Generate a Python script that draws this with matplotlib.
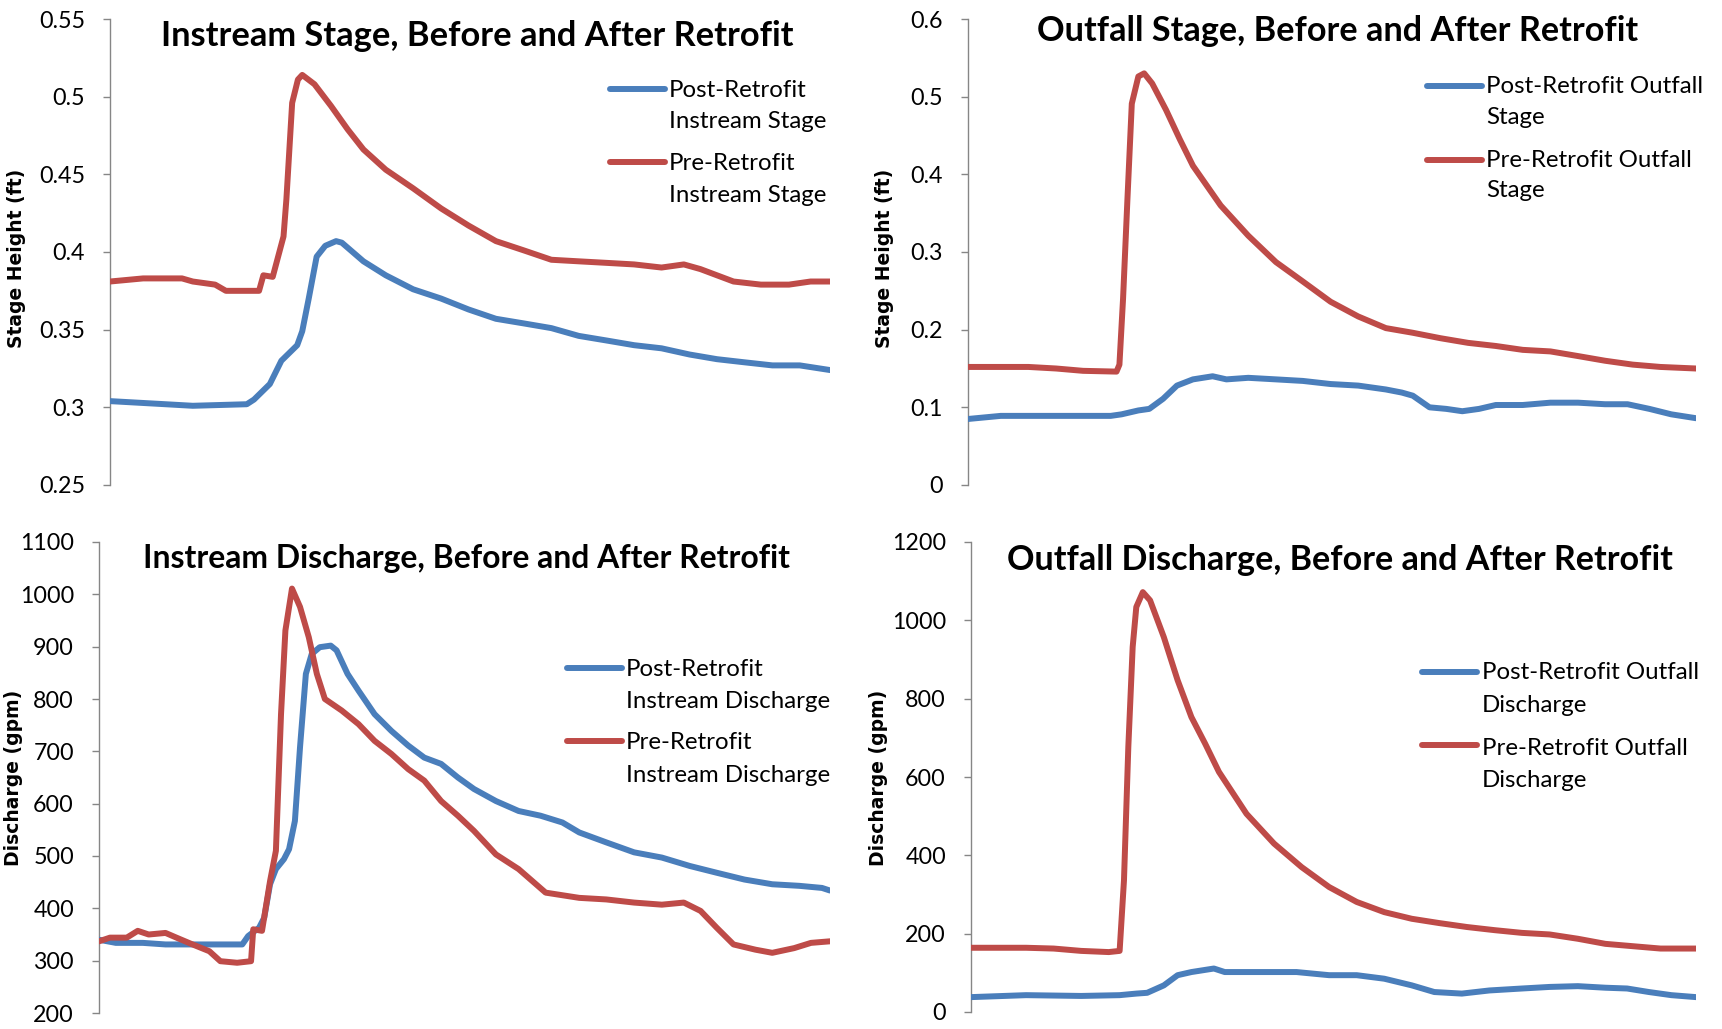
import matplotlib
matplotlib.use("Agg")
import matplotlib.pyplot as plt
from matplotlib.lines import Line2D

# ---------------------------------------------------------------- data
# time axis: percent of the storm-event record
t_instream_stage_post = [0, 7.7, 11.5, 19, 20, 22.2, 23.8, 26, 26.7, 27.6, 28.7, 29.9, 31.4, 32.2,
                         35.2, 38.3, 42.1, 46, 49.8, 53.6, 57.5, 61.3, 65.1, 69, 72.8, 76.6, 80.5,
                         84.3, 88.1, 92, 95.8, 100]
instream_stage_post = [0.304, 0.302, 0.301, 0.302, 0.305, 0.315, 0.330, 0.340, 0.349, 0.370, 0.397,
                       0.404, 0.407, 0.406, 0.394, 0.385, 0.376, 0.370, 0.363, 0.357, 0.354, 0.351,
                       0.346, 0.343, 0.340, 0.338, 0.334, 0.331, 0.329, 0.327, 0.327, 0.324]

t_instream_stage_pre = [0, 4.6, 10, 11.5, 14.6, 16.1, 20.7, 21.3, 22.6, 24.1, 24.5, 25.3, 26.1, 26.7,
                        28.4, 30.7, 33, 35.2, 38.3, 42.1, 46, 49.8, 53.6, 57.5, 61.3, 65.1, 69, 72.8,
                        76.6, 79.7, 82, 84.3, 86.6, 90.4, 94.3, 97.3, 100]
instream_stage_pre = [0.381, 0.383, 0.383, 0.381, 0.379, 0.375, 0.375, 0.385, 0.384, 0.410, 0.434,
                      0.496, 0.511, 0.514, 0.508, 0.494, 0.479, 0.466, 0.453, 0.441, 0.428, 0.417,
                      0.407, 0.401, 0.395, 0.394, 0.393, 0.392, 0.390, 0.392, 0.389, 0.385, 0.381,
                      0.379, 0.379, 0.381, 0.381]

t_outfall_stage_post = [0, 4.5, 12.1, 19.6, 21.1, 23.4, 24.9, 26.8, 28.7, 30.9, 33.6, 35.5, 38.5,
                        42.3, 46, 49.8, 53.6, 57.4, 59.6, 61.1, 63.4, 65.7, 67.9, 70.2, 72.5, 76.2,
                        80, 83.8, 87.5, 90.6, 93.6, 96.6, 100]
outfall_stage_post = [0.085, 0.089, 0.089, 0.089, 0.091, 0.096, 0.098, 0.111, 0.128, 0.136, 0.140,
                      0.136, 0.138, 0.136, 0.134, 0.130, 0.128, 0.123, 0.119, 0.115, 0.100, 0.098,
                      0.095, 0.098, 0.103, 0.103, 0.106, 0.106, 0.104, 0.104, 0.098, 0.091, 0.086]

t_outfall_stage_pre = [0, 8.3, 12.1, 15.8, 20.4, 20.8, 21.3, 21.9, 22.5, 23.4, 24.2, 25.3, 27.2,
                       29.1, 30.9, 34.7, 38.5, 42.3, 46, 49.8, 53.6, 57.4, 61.1, 64.9, 68.7, 72.5,
                       76.2, 80, 83.8, 87.5, 91.3, 95.1, 100]
outfall_stage_pre = [0.152, 0.152, 0.150, 0.147, 0.146, 0.155, 0.240, 0.368, 0.491, 0.526, 0.530,
                     0.517, 0.483, 0.445, 0.411, 0.360, 0.321, 0.287, 0.262, 0.236, 0.217, 0.202,
                     0.196, 0.189, 0.183, 0.179, 0.174, 0.172, 0.166, 0.160, 0.155, 0.152, 0.150]

t_instream_q_post = [0, 2.3, 6, 9.1, 12.8, 16.6, 19.6, 20.4, 21.9, 22.6, 23.4, 24.2, 25.3, 26, 26.8,
                     27.5, 28.3, 29.1, 30.2, 31.7, 32.5, 34, 35.5, 37.7, 40, 42.3, 44.5, 46.8, 49.1,
                     51.3, 54.3, 57.4, 60.4, 63.4, 65.7, 69.4, 73.2, 77, 80.8, 84.5, 88.3, 92.1,
                     95.8, 98.9, 100]
instream_q_post = [340, 334, 334, 331, 331, 331, 331, 347, 363, 382, 446, 475, 494, 513, 567, 708,
                   848, 886, 899, 902, 893, 848, 816, 771, 739, 711, 688, 676, 650, 628, 605, 586,
                   577, 564, 545, 526, 507, 497, 481, 468, 455, 446, 443, 439, 434]

t_instream_q_pre = [0, 1.5, 3.8, 5.3, 6.8, 9.1, 10.6, 12.8, 15.1, 16.6, 18.9, 20.8, 21.1, 22.3,
                    23.4, 24.2, 24.9, 25.5, 26.4, 27.5, 28.7, 29.8, 30.9, 33.2, 35.5, 37.7, 40,
                    42.3, 44.5, 46.8, 49.1, 51.3, 54.3, 57.4, 61.1, 65.7, 69.4, 73.2, 77, 80, 82.3,
                    84.5, 86.8, 89.8, 92.1, 95.1, 97.4, 100]
instream_q_pre = [337, 344, 344, 357, 350, 353, 344, 331, 318, 299, 296, 299, 360, 357, 452, 510,
                  771, 931, 1011, 976, 918, 848, 800, 778, 752, 720, 695, 666, 644, 605, 577, 548,
                  503, 475, 430, 420, 417, 411, 407, 411, 395, 363, 331, 321, 315, 324, 334, 337]

t_outfall_q_post = [0, 7.6, 15.2, 20.5, 22.8, 24.3, 26.6, 28.5, 30.4, 33.5, 35, 38, 41.8, 44.9, 49.4,
                    53.2, 57, 60.8, 63.9, 67.7, 71.5, 76, 79.8, 83.7, 87.5, 90.5, 93.5, 96.6, 100]
outfall_q_post = [38, 43, 41, 43, 47, 49, 68, 94, 102, 111, 102, 102, 102, 102, 94, 94, 85, 68, 51,
                  47, 55, 60, 64, 66, 62, 60, 51, 43, 38]

t_outfall_q_pre = [0, 7.6, 11.4, 15.2, 19, 20.5, 21.1, 21.7, 22.3, 22.8, 23.7, 24.7, 26.6, 28.5, 30.4,
                   32.3, 34.2, 38, 41.8, 45.6, 49.4, 53.2, 57, 60.8, 64.6, 68.4, 72.2, 76, 79.8,
                   83.7, 87.5, 91.3, 95.1, 100]
outfall_q_pre = [164, 164, 162, 156, 153, 156, 336, 677, 932, 1034, 1072, 1051, 957, 847, 753, 685,
                 613, 506, 430, 370, 319, 281, 255, 238, 227, 217, 209, 202, 198, 187, 174, 168,
                 162, 162]

titles = ["Instream Stage, Before and After Retrofit",
          "Outfall Stage, Before and After Retrofit",
          "Instream Discharge, Before and After Retrofit",
          "Outfall Discharge, Before and After Retrofit"]
ylabels = ["Stage Height (ft)", "Stage Height (ft)", "Discharge (gpm)", "Discharge (gpm)"]
legend_labels = [
    [("Post-Retrofit", "Instream Stage"), ("Pre-Retrofit", "Instream Stage")],
    [("Post-Retrofit Outfall", "Stage"), ("Pre-Retrofit Outfall", "Stage")],
    [("Post-Retrofit", "Instream Discharge"), ("Pre-Retrofit", "Instream Discharge")],
    [("Post-Retrofit Outfall", "Discharge"), ("Pre-Retrofit Outfall", "Discharge")],
]
yticks = [
    [0.25, 0.3, 0.35, 0.4, 0.45, 0.5, 0.55],
    [0, 0.1, 0.2, 0.3, 0.4, 0.5, 0.6],
    [200, 300, 400, 500, 600, 700, 800, 900, 1000, 1100],
    [0, 200, 400, 600, 800, 1000, 1200],
]
ytick_labels = [
    ["0.25", "0.3", "0.35", "0.4", "0.45", "0.5", "0.55"],
    ["0", "0.1", "0.2", "0.3", "0.4", "0.5", "0.6"],
    ["200", "300", "400", "500", "600", "700", "800", "900", "1000", "1100"],
    ["0", "200", "400", "600", "800", "1000", "1200"],
]
series = [
    ((t_instream_stage_post, instream_stage_post), (t_instream_stage_pre, instream_stage_pre)),
    ((t_outfall_stage_post, outfall_stage_post), (t_outfall_stage_pre, outfall_stage_pre)),
    ((t_instream_q_post, instream_q_post), (t_instream_q_pre, instream_q_pre)),
    ((t_outfall_q_post, outfall_q_post), (t_outfall_q_pre, outfall_q_pre)),
]

# ---------------------------------------------------------------- styling
W, H = 1722, 1029
BLUE, RED = "#4A7EBB", "#BE4B48"
AXIS_GREY = "#868686"
SANS = ["Lato", "DejaVu Sans"]
LW = 4.3

fig = plt.figure(figsize=(W / 100, H / 100), dpi=100)
fig.patch.set_facecolor("white")
renderer = fig.canvas.get_renderer()


def fx(x):
    return x / W


def fy(y):
    return 1 - y / H


def text_width(s, size, family, weight):
    t = fig.text(0, 0, s, fontsize=size, family=family, weight=weight)
    w = t.get_window_extent(renderer).width
    t.remove()
    return w


def fit_size(s, target_px, family, weight="normal"):
    return 20 * target_px / text_width(s, 20, family, weight)


tick_size = fit_size("0.55", 46, SANS)
legend_size = fit_size("Post-Retrofit Outfall", 217, SANS)
ylabel_size = fit_size("Discharge (gpm)", 176, ["DejaVu Sans"], "bold")

# panel boxes in pixels: left, right, top, bottom
boxes = [(110, 830, 19, 485), (968, 1696, 19, 485), (99, 830, 542, 1013), (971, 1696, 542, 1012)]
# title: left, right, baseline
title_pos = [(162, 793, 46), (1038, 1638, 41), (143, 790, 568), (1007, 1673, 570)]
# y label: x centre, y centre
ylabel_pos = [(17, 258), (885, 258), (14, 778), (879, 778)]
# legend: handle x0, handle x1, text x, baselines, handle y
legend_pos = [
    (610, 665, 669, (97, 128, 170, 202), (89, 162)),
    (1427, 1482, 1486, (93, 124, 167, 197), (86, 160)),
    (567, 622, 626, (676, 708, 749, 782), (668, 741)),
    (1422, 1477, 1482, (679, 712, 755, 787), (672, 745)),
]

for i in range(4):
    left, right, top, bottom = boxes[i]
    ax = fig.add_axes([fx(left), fy(bottom), (right - left) / W, (bottom - top) / H])
    (tp, vp), (tr, vr) = series[i]
    ax.plot(tp, vp, color=BLUE, lw=LW, solid_joinstyle="round", solid_capstyle="round", zorder=3)
    ax.plot(tr, vr, color=RED, lw=LW, solid_joinstyle="round", solid_capstyle="round", zorder=3)
    ax.set_xlim(0, 100)
    ax.set_ylim(yticks[i][0], yticks[i][-1])
    ax.set_yticks(yticks[i])
    ax.set_yticklabels(ytick_labels[i], family=SANS, fontsize=tick_size)
    ax.set_xticks([])
    for s in ("top", "right", "bottom"):
        ax.spines[s].set_visible(False)
    ax.spines["left"].set_color(AXIS_GREY)
    ax.spines["left"].set_linewidth(1.0)
    ax.tick_params(axis="y", direction="out", length=5, width=1.0, color=AXIS_GREY,
                   pad=13, labelcolor="black")
    ax.patch.set_alpha(0)

    # title
    tl, trt, tb = title_pos[i]
    tsize = fit_size(titles[i], trt - tl, SANS, "bold")
    fig.text(fx((tl + trt) / 2), fy(tb), titles[i], ha="center", va="baseline",
             fontsize=tsize, family=SANS, weight="bold")

    # y label
    yx, yy = ylabel_pos[i]
    fig.text(fx(yx), fy(yy), ylabels[i], rotation=90, ha="center", va="center",
             fontsize=ylabel_size, family="DejaVu Sans", weight="bold")

    # legend
    hx0, hx1, tx, bases, hys = legend_pos[i]
    for k, colr in enumerate((BLUE, RED)):
        fig.add_artist(Line2D([fx(hx0), fx(hx1)], [fy(hys[k]), fy(hys[k])], color=colr,
                              lw=LW, solid_capstyle="round", transform=fig.transFigure))
        for j in range(2):
            fig.text(fx(tx), fy(bases[2 * k + j]), legend_labels[i][k][j], ha="left",
                     va="baseline", fontsize=legend_size, family=SANS)

fig.savefig("out.png", dpi=100, facecolor="white")
